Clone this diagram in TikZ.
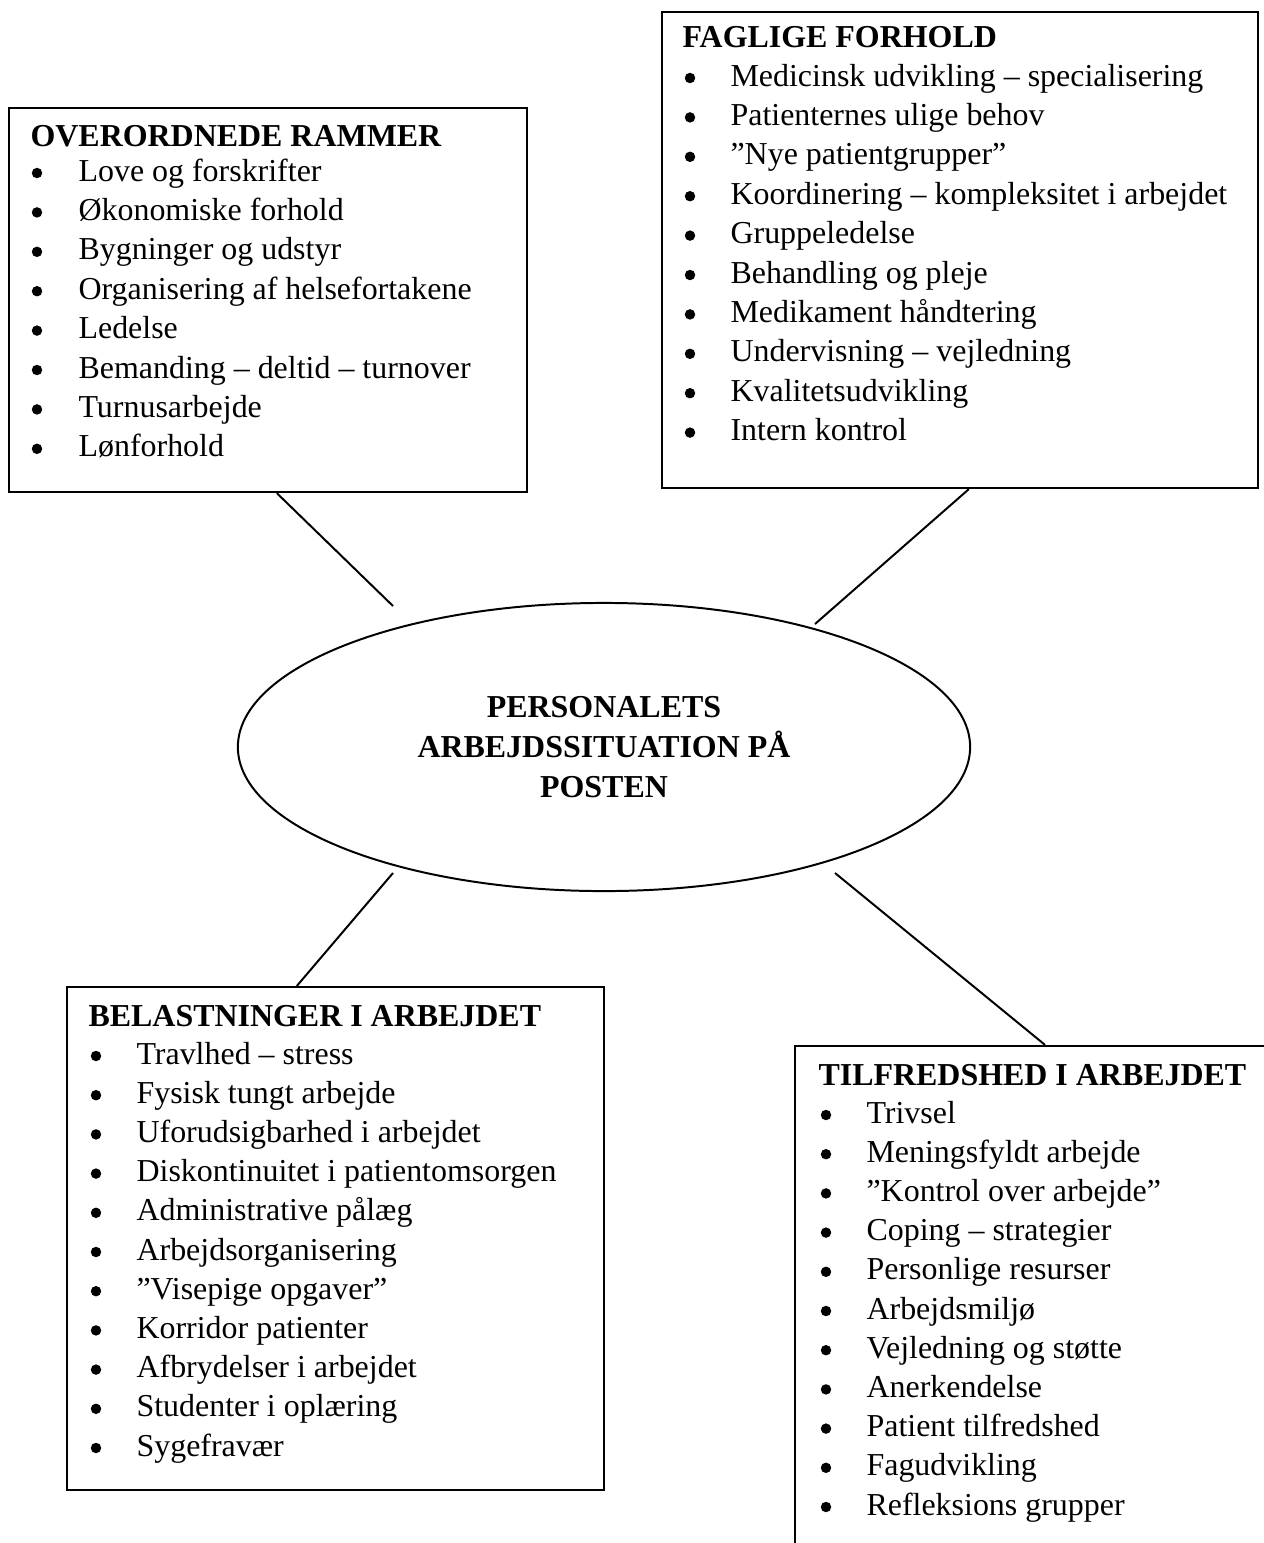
\documentclass[tikz,border=0pt,12pt]{standalone}
\usepackage{fontspec}
\setmainfont{Liberation Serif}
\usetikzlibrary{shapes.geometric,fit}

\tikzstyle{box}=[rectangle, draw, line width=0.8pt, inner sep=0pt]
\tikzstyle{hub}=[ellipse, draw, line width=0.7pt, inner sep=0pt,
                 minimum width=9.106cm, minimum height=3.583cm,
                 align=center, font=\fontsize{11.3}{14}\selectfont\bfseries]
\tikzstyle{head}=[anchor=base west, inner sep=0pt,
                  font=\fontsize{11.3}{13.6}\selectfont\bfseries]
\tikzstyle{item}=[anchor=base west, inner sep=0pt,
                  font=\fontsize{11.3}{13.6}\selectfont]
\tikzstyle{dot}=[circle, fill, inner sep=0pt, minimum size=0.13cm]
\tikzstyle{link}=[line width=0.7pt]

\begin{document}
\begin{tikzpicture}[x=0.01244cm, y=-0.01244cm]

  \useasboundingbox (0,0) rectangle (1263,1543);

  %%%%%%%%%%%%%%%%%%%%%%%%%%%%%%
  %%%%%%%%%%%%%%%%%%%%%%%%%%%%%%
  % centre
  \node (posten) at (604,747) [hub] {PERSONALETS\\ARBEJDSSITUATION PÅ\\POSTEN};

  %%%%%%%%%%%%%%%%%%%%%%%%%%%%%%
  % boxes
  % top left
  \node (rammer) [box, fit={(9,108) (527,492)}] {};
  \node (rammer-head) at (30,146) [head] {OVERORDNEDE RAMMER};
  \foreach \txt [count=\i] in {Love og forskrifter, Økonomiske forhold,
      Bygninger og udstyr, Organisering af helsefortakene, Ledelse,
      Bemanding -- deltid -- turnover, Turnusarbejde, Lønforhold} {
    \node (rammer-d\i) at (37,{173+39.4*(\i-1)}) [dot] {};
    \node (rammer-\i) at (78,{181+39.4*(\i-1)}) [item] {\txt};
  }

  % top right
  \node (faglige) [box, fit={(662,12) (1258,488)}] {};
  \node (faglige-head) at (682,47) [head] {FAGLIGE FORHOLD};
  \foreach \txt [count=\i] in {Medicinsk udvikling -- specialisering,
      Patienternes ulige behov, ”Nye patientgrupper”,
      Koordinering -- kompleksitet i arbejdet, Gruppeledelse,
      Behandling og pleje, Medikament håndtering,
      Undervisning -- vejledning, Kvalitetsudvikling, Intern kontrol} {
    \node (faglige-d\i) at (690,{78+39.4*(\i-1)}) [dot] {};
    \node (faglige-\i) at (730,{86+39.4*(\i-1)}) [item] {\txt};
  }

  % bottom left
  \node (belast) [box, fit={(67,987) (604,1490)}] {};
  \node (belast-head) at (88,1026) [head] {BELASTNINGER I ARBEJDET};
  \foreach \txt [count=\i] in {Travlhed -- stress, Fysisk tungt arbejde,
      Uforudsigbarhed i arbejdet, Diskontinuitet i patientomsorgen,
      Administrative pålæg, Arbejdsorganisering, ”Visepige opgaver”,
      Korridor patienter, Afbrydelser i arbejdet, Studenter i oplæring,
      Sygefravær} {
    \node (belast-d\i) at (96,{1056+39.2*(\i-1)}) [dot] {};
    \node (belast-\i) at (136,{1064+39.2*(\i-1)}) [item] {\txt};
  }

  % bottom right (runs off the page)
  \node (tilfreds) [box, fit={(795,1046) (1295,1620)}] {};
  \node (tilfreds-head) at (818,1085) [head] {TILFREDSHED I ARBEJDET};
  \foreach \txt [count=\i] in {Trivsel, Meningsfyldt arbejde,
      ”Kontrol over arbejde”, Coping -- strategier, Personlige resurser,
      Arbejdsmiljø, Vejledning og støtte, Anerkendelse,
      Patient tilfredshed, Fagudvikling, Refleksions grupper} {
    \node (tilfreds-d\i) at (826,{1115+39.2*(\i-1)}) [dot] {};
    \node (tilfreds-\i) at (866,{1123+39.2*(\i-1)}) [item] {\txt};
  }

  %%%%%%%%%%%%%%%%%%%%%%%%%%%%%%
  % links
  \coordinate (rammer-end) at (393,606);
  \coordinate (faglige-end) at (815,624);
  \coordinate (belast-end) at (393,873);
  \coordinate (tilfreds-end) at (835,873);

  \draw [link] ([xshift=0.11cm]rammer.south) -- (rammer-end);
  \draw [link] ([xshift=0.11cm]faglige.south) -- (faglige-end);
  \draw [link] ([xshift=-0.48cm]belast.north) -- (belast-end);
  \draw [link] (tilfreds.north) -- (tilfreds-end);

\end{tikzpicture}
\end{document}
